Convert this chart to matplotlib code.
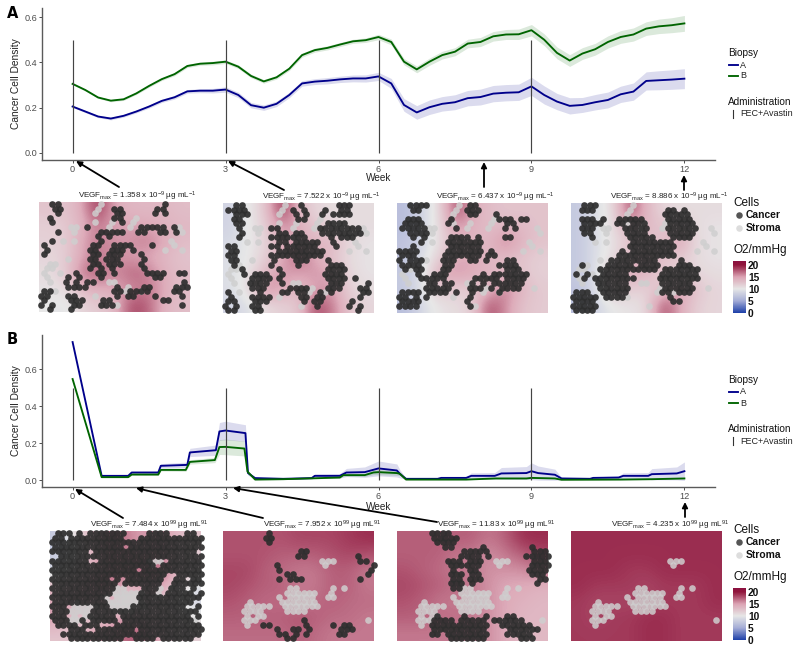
import numpy as np
import matplotlib
matplotlib.use("Agg")
import matplotlib.pyplot as plt
from matplotlib.colors import LinearSegmentedColormap, Normalize
from matplotlib.cm import ScalarMappable

plt.rcParams['font.family'] = ['Liberation Sans', 'DejaVu Sans']
plt.rcParams['mathtext.fontset'] = 'custom'
plt.rcParams['mathtext.rm'] = 'Liberation Sans'
plt.rcParams['mathtext.it'] = 'Liberation Sans'
plt.rcParams['mathtext.bf'] = 'Liberation Sans:bold'

# panel A curves, one value every quarter week
weeks_top = [i * 0.25 for i in range(49)]
top_a = [.205,.183,.161,.152,.164,.183,.205,.23,.246,.272,.275,.275,.28,.256,.211,.2,.217,.256,.307,.315,.319,.325,.329,.329,.338,
         .307,.212,.179,.202,.217,.224,.242,.247,.262,.266,.268,.294,.256,.227,.208,.212,.224,.234,.259,.271,.318,.321,.324,.328]
top_b = [.305,.278,.245,.231,.237,.263,.296,.326,.348,.384,.394,.397,.403,.381,.34,.316,.334,.372,.432,.454,.464,.479,.493,.498,.512,
         .49,.403,.369,.403,.432,.447,.483,.49,.515,.523,.524,.542,.5,.442,.408,.439,.458,.49,.512,.523,.549,.559,.564,.572]
top_a_err = [.004,.005,.005,.006,.006,.006,.007,.007,.008,.008,.009,.010,.012,.012,.012,.012,.012,.012,.012,.013,.014,.014,.015,.016,.018,
             .022,.028,.030,.032,.032,.033,.034,.035,.036,.036,.036,.040,.040,.036,.036,.033,.034,.035,.036,.038,.040,.042,.043,.044]
top_b_err = [.003,.004,.004,.005,.005,.005,.006,.006,.007,.007,.007,.008,.008,.008,.008,.008,.008,.008,.009,.009,.009,.009,.009,.010,.012,
             .013,.014,.015,.016,.017,.018,.019,.020,.021,.022,.023,.025,.026,.026,.026,.026,.026,.027,.028,.029,.030,.032,.033,.035]

# panel B curves (stepped, so uneven weeks)
low_a_weeks = [0,.57,1.09,1.16,1.68,1.73,2.25,2.3,2.81,2.88,3,3.39,3.44,3.58,4.13,4.69,4.75,5.24,5.37,5.73,6,6.36,6.42,6.54,7.16,7.23,
               7.72,7.82,8.28,8.41,8.9,9,9.13,9.46,9.59,10.15,10.21,10.71,10.8,11.29,11.36,11.85,12]
low_a = [.745,.025,.025,.043,.043,.079,.084,.151,.163,.264,.269,.255,.04,.013,.009,.013,.025,.025,.043,.045,.065,.054,.036,.009,.009,.014,
         .014,.025,.025,.038,.04,.05,.04,.031,.011,.009,.014,.016,.025,.025,.034,.038,.05]
low_a_err = [0,.001,.002,.006,.008,.012,.015,.022,.028,.048,.05,.045,.012,.004,.003,.006,.01,.012,.022,.028,.04,.035,.022,.003,.003,.006,
             .008,.016,.018,.032,.035,.045,.038,.03,.006,.003,.006,.008,.016,.018,.03,.035,.05]
low_b_weeks = [0,.57,1.09,1.16,1.68,1.73,2.22,2.3,2.79,2.88,3,3.37,3.43,3.58,4.13,5.24,5.31,5.73,5.9,6,6.36,6.42,6.54,7.72,8.3,8.9,9,9.46,9.59,10.74,11.36,12]
low_b = [.546,.018,.018,.032,.032,.057,.057,.1,.11,.18,.181,.172,.048,.005,.007,.016,.029,.029,.043,.045,.04,.036,.005,.005,.011,.011,.014,.011,.004,.005,.007,.011]
low_b_err = [0,.001,.001,.004,.005,.006,.008,.012,.014,.04,.042,.04,.008,.002,.002,.003,.006,.007,.012,.014,.012,.009,.001,.001,.002,.002,.003,.002,.001,.001,.002,.002]

admin_weeks = [0, 3, 6, 9]
x_ticks = [0, 3, 6, 9, 12]

titles_top = ['1.358 x 10$^{-9}$', '7.522 x 10$^{-9}$', '6.437 x 10$^{-9}$', '8.886 x 10$^{-9}$']
titles_low = ['7.484 x 10$^{99}$', '7.952 x 10$^{99}$', '11.83 x 10$^{99}$', '4.235 x 10$^{99}$']

# cell maps: for every hex row, the columns holding a cell
stroma_top = [[11],[10],[10],[17],[10,13,17],[5,6,12,16,25],[6,26],[],[4,6,24],[24],[23,26],[],[5],[1,2],[1,2],[0,3],[1],[1,12,13],
              [16,25],[2,15,18],[10],[],[14],[]]
cells_a1 = [[2,3,23],[2,3,13,14,21,22],[3,14,15,21,23],[1,13,14],[2,15],[8,18,19,20,21,22,24],[3,11,12,13,14,15,18,19,22,23,25],[10,12],
            [2,11],[0,9,10,13,14,15,16,20],[1,9,10,13,14,15,17],[0,9,10,12,13,14,18],[9,10,12,13,14,19],[9,10,12,13,14,18],[9,11,13,19],
            [6,10,11,13,19,20,21,22,25,26],[5,7,11,21,22],[4,6,8,9,26],[5,6,7,8,14,19,20,25,26,27],[0,1,13,14,16,17,18,19,24,25],[0,1,5,6,14,16,17,21,26],
            [0,5,6,7,11,12,22,23],[0,2,6,7,11,12,13,26],[1,5]]
cells_a2 = [[2,3,14,21,22,23],[0,1,2,3,12,14,18,21,22],[2,3,4,13,15,18,20,21,22,23],[1,2,13,14],[2,3,19,20,21,22],[2,8,9,17,18,19,20,21,22,23,24],
            [3,10,11,13,14,18,19,20,21,22,23,24,25],[2,8,9,10,11,12,13,14,19,21,22,23],[10,11,13,14,15,16,17,20],[0,1,8,9,11,12,13,14,15,16,20],
            [1,2,10,11,12,13,14,15,16,17,18],[0,1,8,9,10,11,12,13,14,15,16,17],[1,2,9,13,14,15,19],[1,8,13,19,20,21],[3,10,19,20,21,22],
            [3,5,6,7,10,18,19,20,21],[5,6,7,8,10,19,20,21,22,24],[4,5,6,7,10,19,20,21,26],[5,6,7,12,13,14,15,19,20,21,25,26],
            [0,6,10,11,13,14,17,19,25,26],[1,5,6,7,8,14,15,17,18,25],[0,1,5,6,7,14,16,17,23],[0,2,5,6,17,23,25],[0,1,5,6,24]]
cells_a3 = [[2,3,4,5,13,14],[2,3,12,13,14],[13,14,18],[1,2,3,9,18,19,20,22,23],[1,2,3,4,9,20,21],[0,1,2,3,4,10,19,21],[2,3,4,5],
            [2,4,9,10,11,12,14,19,20],[4,9,10,11,12,13,14,15],[2,9,10,11,12,13,14],[0,1,2,3,9,10,11,12,13,14,15,17],[0,1,2,8,9,10,11,12,13,14,16,17],
            [0,2,3,4,8,9,10,13,14,16,20,21],[0,1,2,3,8,9,18,19,20,21],[1,3,4,8,9,20,21,22],[3,6,7,8,15,17,18,19,20,21,22,23],[4,5,6,7,8,14,15,16,17,18,20,21,22,23],
            [5,6,8,9,13,15,17,18,19,20,21,22],[5,6,7,8,9,13,14,15,17,19,20,21,22],[0,1,2,3,5,6,7,8,10,13,18],[0,1,3,5,13],[0,1,2,3,12],[0,1,2,3,13],[]]
cells_a4 = [[2,3,4],[1,2,3,17,18,20],[17,18,19,20,21],[1,2,3,5,8,9,10,11,12,17,18,19,20,21],[2,3,4,5,8,9,11,12,13,18,19,20,21,22],[1,2,3,9,10,11,12,13,17,18,19,20,21,22],
            [2,3,10,11,12,13,18,19,20,21,22],[3,10,11,12,13,14,18,19,20,21],[11,12,13,14,15,16,17,18],[10,11,12,13,14,15,16,17,18],[9,11,12,13,14,15,16,17,18],
            [8,9,10,11,12,13,14,15,16,17,18],[7,8,9,10,11,12,13,14,15,20],[1,6,7,8,9,10,12,13,14,15,19,20,21],[5,6,7,8,9,10,11,12,13,14,15,17,18,19,20,21,22,23],
            [0,2,5,6,7,8,9,16,17,18,19,20,21,22],[2,4,5,6,7,8,9,10,11,16,17,18,19,20,21,22,23],[4,5,6,7,8,9,16,17,18,19,20,21],[5,6,7,8,9,10,17,18,19,20,21,22],
            [0,1,2,5,6,7,8,9,16,17,19,20,21],[0,1,2,3,4,6,7,8,9,18],[0,1,2,3,18,19],[0,1,2,3,4],[0,1,2,3]]

stroma_low = [[],[],[],[],[],[],[18,19,20],[18],[],[],[],[],[12,13,20,22],[11,12,13,14,15,16,19],[10,12,13,14,15,16,19,20],[4,10,11,12,13,14,15,16],
              [4,5,6,7,8,11,12,13,14,15,16,17],[3,4,5,6,11,12,13,14],[4,6,7],[3,4,5,26],[4],[],[],[]]
# map B1 is almost full, so only its empty places are listed
holes_b1 = [[0,4,6,14,15,16,17,22,23,24,27],[2,13,14,15],[],[13],[7,27],[0],[7,8,19,20,21],[19],[16],[21,22],[11,13,21,22,25],[12,20,21],
            [12,13,14,15,16,20,21,25,27],[11,12,13,14,15,19,20,26],[10,11,12,13,14,15],[10,11,12,13,14,15,26,27],[3,4,5,6,7,11,12,13,14,25,26],[3,4,5,6,27],
            [3,4,5,6,12,26],[3,4,6,12,26,27],[0,5,9,10,11],[0,1,2,6,7,15],[0,1],[0,1,2,13,14,19,26,27]]
cells_b2 = [[8],[7,8],[8],[],[14,15],[13,14,24],[25,26],[9,27],[10,27],[11,12,26],[10,12,13,14,25],[],[],[],[],[],[],[],[],[14],[7,8,15,20,22,23],
            [9,12,13,15,21,22,23],[10,11,13,15,21,22],[11,12]]
cells_b3 = [[6,7,8,9],[6,7,8,9,10],[7,8,9,10],[8,9,15,24],[12,13,14,15,16,25,26,27],[11,12,13,14,16,23,24,25,26,27],[9,10,11,13,14,15,25,26,27],
            [9,10,11,12,13,14,24,25,26,27],[10,13,14,24,25,26,27],[9,10,11,13,14,24,25,26],[10,11,13,14,15,26,27],[9,10,11,13,25],[10,11],[],[],[],[],[],
            [7,12,16,20,21],[6,7,8,9,11,12,13,14,15,17,18,19,20,21,22],[6,7,8,9,10,11,12,13,14,15,16,19,20,21,22,23,24],[6,7,8,9,10,11,12,13,14,15,20,21,22,23,24,25],
            [6,7,9,10,11,12,13,14,15,16,20,21,22,23,24],[9,10,11,12,13,14,15,22,23,24]]
cells_b4 = [[] for i in range(24)]

# oxygen fields on a coarse grid, mmHg
o2_a1 = [[13,13,14.5,20,15,14,14,14,13.5],[12,12.5,14,17,15,15.5,15,14.5,14],[12,12,15,17,16,16,17,15,13.5],[11.5,12,15,17,16,15.5,15,14,13],
         [11,12,17,18,16,18,17,14.5,13.5],[10.5,11,14,15,15,16,17,15,13.5],[10,9.5,11.5,12.5,13.5,19,18,14,13.5]]
o2_a2 = [[8,10,12.5,20,14,11.5,11,11,11],[8,10,12,16,15,13,11.5,11,11],[8.5,10,11.5,15,15,14,14.5,11.5,10.5],[9,10,12,15,18,15,13,11,10.5],
         [9,10.5,14,16,15,16,15,11.5,10.5],[9,11,17,15,14,15,16,12,11],[8,9,11,12,12.5,19,17,13,11.5]]
o2_a3 = [[6,8,11,19,15,13.5,13,13,13],[6,8,11,16,14.5,13.5,14,14,13],[6.5,8,11,14,14,14,17,14,13],[6.5,9,12,15,15,14,13.5,13,12],
         [7,9,15,16,15,14,14,13,12],[7,9.5,13,12,12.5,14,17,14,12.5],[6,8.5,10.5,11,12,19,16,13,12.5]]
o2_a4 = [[7,9,11,19,14,11.5,11,11,11],[7,9,11,15,14,13,13,11,10.5],[7,9,10.5,13,13,13,16,11,10.5],[7,9,11,14,16,13,12.5,11,10.5],
         [7,9,14,15,14,12,12.5,11.5,11],[6.5,9,14,12,12,13,16,13,11.5],[6,8,10,10.5,11,19,15,12,11.5]]
o2_b1 = [[7,11,14,18,17,15,17,14,13],[7,10,14,17,17,16,17,14,12],[8,12,15,17,18,17,18,15,12],[14,15,17,18,14,16,16,13,9],[15,16,15,14,11,12,13,11,8],
         [16,13,12,14,16,15,14,13,10],[13,13,16,16,18,18,15,13,12]]
o2_b2 = [[18.5,18.5,18.5,18.5,19,19,19,19.5,20],[18.5,18.5,18.5,18,18,18,18.5,19,18.5],[19,19,18,17.5,17,17,18,18,17],[19,18.5,18,18,17,17,18,18,17],
         [18.5,18,17.5,17.5,17,17.5,18,17.5,17.5],[18,18,18,18,18.5,18,17.5,17.5,17],[17.5,17.5,17.5,17.5,18,17.5,17,17,17]]
o2_b3 = [[18,18,18,18,18,17,18,20,20],[18,18,18,17,17,16,17,18,19],[18.5,18,17.5,17,17,16,16,16,17],[19,18.5,18,17.5,17,16,15,15,14.5],
         [18.5,18,17,17,17,16,15,14.5,14],[18,18,17.5,17.5,17,16,15,14,14],[17,17,17,17,17,16,15,14,14]]
o2_b4 = [[20,20,20,20,20,20,20,20,20],[20,20,20,20,20,20,20,20,20],[20,20,20,19.5,19.5,20,20,20,20],[20,19.5,19.5,19.5,19,19.5,19.5,19.5,20],
         [19.5,19,19,19,19,19.5,19.5,19.5,20],[19.5,19,19.5,19.5,20,20,19.5,19.5,19.5],[19.5,19.5,19.5,19.5,20,20,19.5,19.5,19.5]]

blue = '#00008b'
green = '#006400'
grey_text = '#4d4d4d'
o2_cmap = LinearSegmentedColormap.from_list('o2', [(0, '#1c3fa8'), (5/21.6, '#a4acd6'), (10/21.6, '#e6e6e6'), (15/21.6, '#dba3b3'),
                                                   (20/21.6, '#90163c'), (1, '#8c1040')])
o2_norm = Normalize(0, 21.6)


def px_box(x0, y0, x1, y1):
    # pixel box of the reference -> figure fractions
    return [x0 / 800, 1 - y1 / 651, (x1 - x0) / 800, (y1 - y0) / 651]


fig = plt.figure(figsize=(8, 6.51), dpi=100)

# overlay in pixels for legends, arrows, letters
over = fig.add_axes([0, 0, 1, 1], zorder=5)
over.set_xlim(0, 800)
over.set_ylim(651, 0)
over.axis('off')


def curve_panel(box, ylim, yticks, week_gap, series):
    ax = fig.add_axes(px_box(*box))
    for wk, val, err, col in series:
        wk, val, err = np.array(wk), np.array(val), np.array(err)
        ax.fill_between(wk, val - err, val + err, color=col, alpha=0.14, lw=0)
        ax.plot(wk, val, color=col, lw=1.35)
    ax.vlines(admin_weeks, 0, 0.5, color='#444444', lw=0.85)
    ax.set_xlim(-0.6, 12.6)
    ax.set_ylim(*ylim)
    ax.set_xticks(x_ticks)
    ax.set_yticks(yticks)
    ax.set_yticklabels([f'{v:.1f}' for v in yticks])
    ax.tick_params(labelsize=6.6, colors=grey_text, length=2, width=0.7, pad=1.5)
    for s in ['top', 'right']:
        ax.spines[s].set_visible(False)
    for s in ['left', 'bottom']:
        ax.spines[s].set_color('#5a5a5a')
        ax.spines[s].set_linewidth(1.0)
    ax.set_xlabel('Week', fontsize=7.2, color='#222222')
    ax.xaxis.set_label_coords(0.5, -week_gap / (box[3] - box[1]))
    ax.set_ylabel('Cancer Cell Density', fontsize=7.4, color='#222222')
    ax.yaxis.set_label_coords(-21 / (box[2] - box[0]), 0.5)
    return ax


def cell_map(box, field, stroma, cancer, title):
    ax = fig.add_axes(px_box(*box))
    ax.imshow(field, cmap=o2_cmap, norm=o2_norm, alpha=0.9, extent=[0, 28, 24, 0], aspect='auto', interpolation='bicubic')
    ax.set_xlim(0, 28)
    ax.set_ylim(24, 0)
    ax.axis('off')
    for rows, col, al in [(stroma, '#cfcfcf', 0.85), (cancer, '#2e2e2e', 0.93)]:
        xs, ys = [], []
        for r, cols in enumerate(rows):
            for c in cols:
                xs.append(c + 0.45 + 0.5 * (r % 2))
                ys.append(r + 0.45)
        ax.scatter(xs, ys, s=23, color=col, alpha=al, lw=0, clip_on=False)
    over.text(box[2] + 7, box[1] - 6, 'VEGF$_{\\mathrm{max}}$ = ' + title, fontsize=5.8, color='#222222', ha='right', va='center')


def arrow(x0, y0, x1, y1):
    over.annotate('', xy=(x1, y1), xytext=(x0, y0), arrowprops=dict(arrowstyle='-|>', color='black', lw=1.3, mutation_scale=8, shrinkA=0, shrinkB=0))


def curve_legend(y):
    over.text(728, y, 'Biopsy', fontsize=7.2, va='center', color='#111111')
    over.plot([729, 738], [y + 12, y + 12], color=blue, lw=1.35)
    over.plot([729, 738], [y + 23, y + 23], color=green, lw=1.35)
    over.text(740, y + 12, 'A', fontsize=6.5, va='center', color='#222222')
    over.text(740, y + 23, 'B', fontsize=6.5, va='center', color='#222222')
    over.text(728, y + 49, 'Administration', fontsize=7.2, va='center', color='#111111')
    over.plot([733, 733], [y + 57, y + 65], color='#333333', lw=0.8)
    over.text(740, y + 61, 'FEC+Avastin', fontsize=6.5, va='center', color='#222222')


def map_legend(y, cbar_top):
    over.text(733, y, 'Cells', fontsize=8.5, va='center', color='#111111')
    over.scatter([739], [y + 12], s=22, color='#555555', lw=0)
    over.scatter([739], [y + 25], s=22, color='#dddddd', lw=0)
    over.text(746, y + 12, 'Cancer', fontsize=7.4, fontweight='bold', va='center', color='#111111')
    over.text(746, y + 25, 'Stroma', fontsize=7.4, fontweight='bold', va='center', color='#111111')
    over.text(733, y + 47, 'O2/mmHg', fontsize=8.5, va='center', color='#111111')
    cax = fig.add_axes(px_box(733, cbar_top, 746, cbar_top + 52))
    cb = fig.colorbar(ScalarMappable(norm=o2_norm, cmap=o2_cmap), cax=cax)
    cb.set_ticks([0, 5, 10, 15, 20])
    cb.outline.set_visible(False)
    cax.tick_params(length=0, pad=1.5, labelsize=7.4)
    for t in cax.get_yticklabels():
        t.set_fontweight('bold')
        t.set_color('#111111')


curve_panel((42, 8, 715, 160), (-0.031, 0.64), [0, 0.2, 0.4, 0.6], 13,
            [(weeks_top, top_a, top_a_err, blue), (weeks_top, top_b, top_b_err, green)])
curve_panel((42, 335, 715, 487), (-0.035, 0.783), [0, 0.2, 0.4, 0.6], 15,
            [(low_a_weeks, low_a, low_a_err, blue), (low_b_weeks, low_b, low_b_err, green)])

top_maps = [(39, 202, 190, 312), (223, 203, 374, 313), (397, 203, 548, 313), (571, 203, 722, 313)]
low_maps = [(50, 531, 201, 641), (223, 531, 374, 641), (397, 531, 548, 641), (571, 531, 722, 641)]
full_b1 = [[c for c in range(28) if c not in h] for h in holes_b1]

for box, f, cells, t in zip(top_maps, [o2_a1, o2_a2, o2_a3, o2_a4], [cells_a1, cells_a2, cells_a3, cells_a4], titles_top):
    cell_map(box, f, stroma_top, cells, t + ' µg mL$^{-1}$')
for box, f, cells, t in zip(low_maps, [o2_b1, o2_b2, o2_b3, o2_b4], [full_b1, cells_b2, cells_b3, cells_b4], titles_low):
    cell_map(box, f, stroma_low, cells, t + ' µg mL$^{91}$')

arrow(119, 187, 76, 161)
arrow(284, 190, 228, 161)
arrow(484, 187, 484, 162)
arrow(684, 190, 684, 175)
arrow(123, 518, 75, 489)
arrow(263, 518, 136, 488)
arrow(437, 522, 233, 488)
arrow(685, 517, 685, 502)

over.text(7, 13, 'A', fontsize=10.5, fontweight='bold', family='DejaVu Sans', va='center')
over.text(7, 339, 'B', fontsize=10.5, fontweight='bold', family='DejaVu Sans', va='center')

curve_legend(53)
curve_legend(380)
map_legend(203, 261)
map_legend(530, 588)

over.set_xlim(0, 800)
over.set_ylim(651, 0)
fig.savefig('out.png', dpi=100)
